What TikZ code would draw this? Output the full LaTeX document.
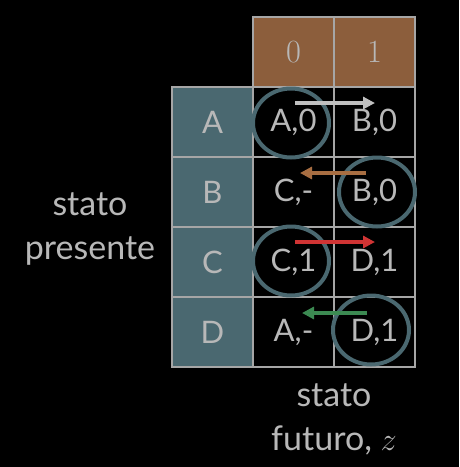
\documentclass[tikz,border=0pt]{standalone}
\usepackage{fontspec}
\setmainfont{Lato}
\usetikzlibrary{arrows.meta,shapes.geometric}
\definecolor{txtgray}{HTML}{B8B8B8}
\definecolor{gridgray}{HTML}{A6A6A6}
\definecolor{headbrown}{HTML}{8C5E3C}
\definecolor{rowteal}{HTML}{4A6870}
\definecolor{arrgray}{HTML}{C0C0C0}
\definecolor{arrbrown}{HTML}{A86E42}
\definecolor{arrred}{HTML}{D03434}
\definecolor{arrgreen}{HTML}{3C8A52}
\tikzset{
  cellbox/.style={draw=gridgray, line width=2pt, minimum width=81pt, minimum height=70pt, inner sep=0pt, text=txtgray, font=\fontsize{31}{36}\selectfont},
  headbox/.style={cellbox, fill=headbrown, font=\fontsize{24.88}{30}\selectfont},
  rowbox/.style={cellbox, fill=rowteal},
  databox/.style={cellbox, fill=black},
  ring/.style={draw=rowteal, line width=4pt, ellipse, minimum width=76pt, minimum height=69pt, inner sep=0pt},
  arr/.style={line width=4pt, -{Triangle[width=12pt,length=12pt]}},
  lbl/.style={text=txtgray, align=center, font=\fontsize{34}{44}\selectfont}
}
\begin{document}
\begin{tikzpicture}[x=1pt,y=-1pt]
\fill[black] (0,0) rectangle (459,467);
\useasboundingbox (0,0) rectangle (459,467);
% header
\node[headbox] (h0) at (293.5,52) {\scalebox{1.3}{$0$}};
\node[headbox] (h1) at (374.5,52) {\scalebox{1.3}{$1$}};
% rows
\node[rowbox] (rA) at (212.5,122) {A};
\node[rowbox] (rB) at (212.5,192) {B};
\node[rowbox] (rC) at (212.5,262) {C};
\node[rowbox] (rD) at (212.5,332) {D};
% data
\node[databox] (cA0) at (293.5,122) {A,0};
\node[databox] (cA1) at (374.5,122) {B,0};
\node[databox] (cB0) at (293.5,192) {C,-};
\node[databox] (cB1) at (374.5,192) {B,0};
\node[databox] (cC0) at (293.5,262) {C,1};
\node[databox] (cC1) at (374.5,262) {D,1};
\node[databox] (cD0) at (293.5,332) {A,-};
\node[databox] (cD1) at (374.5,332) {D,1};
% rings
\node[ring] (oA) at (291,123) {};
\node[ring] (oB) at (377,192) {};
\node[ring] (oC) at (291,261) {};
\node[ring] (oD) at (371,330) {};
% arrows
\coordinate (aAs) at ([xshift=1.5pt,yshift=19pt]cA0.center);
\coordinate (aAe) at ([xshift=0.5pt,yshift=19pt]cA1.center);
\coordinate (aBs) at ([xshift=-8.5pt,yshift=19pt]cB1.center);
\coordinate (aBe) at ([xshift=6.5pt,yshift=19pt]cB0.center);
\coordinate (aCs) at ([xshift=1.5pt,yshift=20pt]cC0.center);
\coordinate (aCe) at ([xshift=0.5pt,yshift=20pt]cC1.center);
\coordinate (aDs) at ([xshift=-7.5pt,yshift=19pt]cD1.center);
\coordinate (aDe) at ([xshift=8.5pt,yshift=19pt]cD0.center);
\draw[arr, draw=arrgray, fill=arrgray] (aAs) -- (aAe);
\draw[arr, draw=arrbrown, fill=arrbrown] (aBs) -- (aBe);
\draw[arr, draw=arrred, fill=arrred] (aCs) -- (aCe);
\draw[arr, draw=arrgreen, fill=arrgreen] (aDs) -- (aDe);
% labels
\node[lbl] (present) at (90,229) {stato\\presente};
\node[lbl] (future) at (334,419) {stato\\futuro, \scalebox{1.3}{$z$}};
\end{tikzpicture}
\end{document}
